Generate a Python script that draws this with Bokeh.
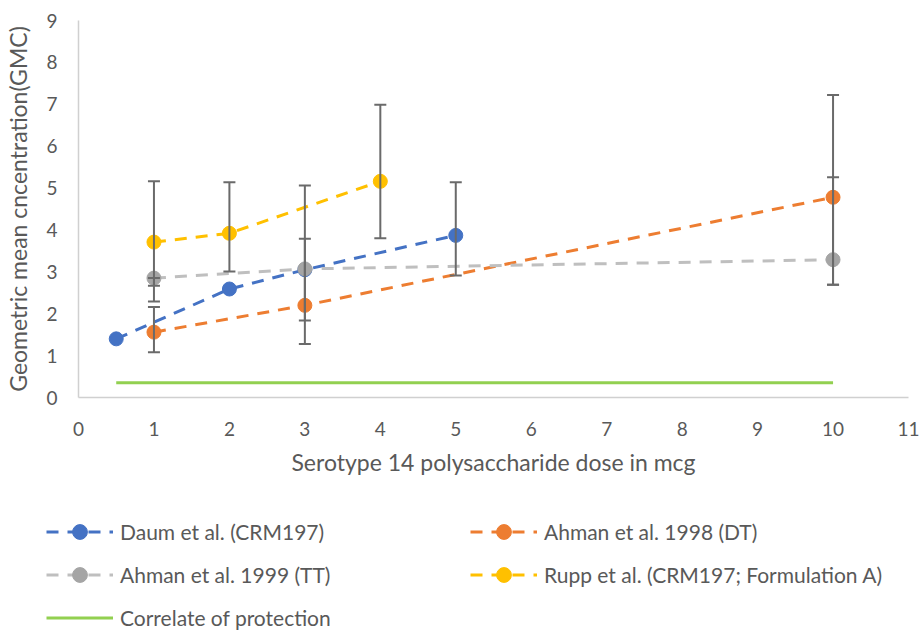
from bokeh.plotting import figure
from bokeh.layouts import column, row
from bokeh.models import (ColumnDataSource, Whisker, TeeHead, FixedTicker, Range1d,
                          Legend, LegendItem)
from bokeh.embed import file_html
from bokeh.resources import INLINE

# ---------------- data ----------------
dose_daum = [0.5, 2, 3, 5]
gmc_daum = [1.40, 2.59, 3.05, 3.87]
lo_daum = [None, None, None, 2.91]
hi_daum = [None, None, None, 5.14]

dose_ahman98 = [1, 3, 10]
gmc_ahman98 = [1.56, 2.20, 4.78]
lo_ahman98 = [1.08, 1.28, 2.69]
hi_ahman98 = [2.16, 3.79, 7.22]

dose_ahman99 = [1, 3, 10]
gmc_ahman99 = [2.85, 3.07, 3.29]
lo_ahman99 = [2.67, 1.84, 2.69]
hi_ahman99 = [2.85, 5.06, 5.26]

dose_rupp = [1, 2, 4]
gmc_rupp = [3.71, 3.92, 5.16]
lo_rupp = [2.29, 3.01, 3.80]
hi_rupp = [5.16, 5.14, 6.99]

cop_dose = [0.5, 10]
cop_gmc = [0.35, 0.35]

x_ticks = list(range(0, 12))
y_ticks = list(range(0, 10))

names = ["Daum et al. (CRM197)", "Ahman et al. 1998 (DT)",
         "Ahman et al. 1999 (TT)", "Rupp et al. (CRM197; Formulation A)",
         "Correlate of protection"]

FONT = "Lato"
TXT = "#595959"
ERR = "#6A6A6A"
GREEN = "#92D050"

styles = [("#4472C4", "#4472C4"), ("#ED7D31", "#ED7D31"),
          ("#BFBFBF", "#A5A5A5"), ("#FFC000", "#FFC000")]

p = figure(width=921, height=490, output_backend="svg", toolbar_location=None,
           x_range=Range1d(0, 11), y_range=Range1d(0, 9),
           min_border_left=78, min_border_right=13, min_border_top=20,
           min_border_bottom=93)
p.outline_line_color = None
p.xgrid.visible = False
p.ygrid.visible = False

p.xaxis.ticker = FixedTicker(ticks=x_ticks)
p.yaxis.ticker = FixedTicker(ticks=y_ticks)
for ax in (p.xaxis[0], p.yaxis[0]):
    ax.axis_line_color = "#D0D0D0"
    ax.axis_line_width = 1.5
    ax.major_tick_line_color = None
    ax.minor_tick_line_color = None
    ax.major_tick_out = 0
    ax.major_tick_in = 0
    ax.minor_tick_out = 0
    ax.minor_tick_in = 0
    ax.major_label_text_font = FONT
    ax.major_label_text_font_size = "19px"
    ax.major_label_text_color = TXT
    ax.axis_label_text_font = FONT
    ax.axis_label_text_font_size = "23px"
    ax.axis_label_text_font_style = "normal"
    ax.axis_label_text_color = TXT

p.xaxis.axis_label = "Serotype 14 polysaccharide dose in mcg"
p.yaxis.axis_label = "Geometric mean cncentration(GMC)"
p.xaxis.major_label_standoff = 24
p.xaxis.axis_label_standoff = 9
p.yaxis.major_label_standoff = 21
p.yaxis.axis_label_standoff = 11

series = [
    (dose_daum, gmc_daum, lo_daum, hi_daum),
    (dose_ahman98, gmc_ahman98, lo_ahman98, hi_ahman98),
    (dose_ahman99, gmc_ahman99, lo_ahman99, hi_ahman99),
    (dose_rupp, gmc_rupp, lo_rupp, hi_rupp),
]

# error bars
for d, g, lo, hi in series:
    xs = [x for x, a in zip(d, lo) if a is not None]
    los = [a for a in lo if a is not None]
    his = [b for b in hi if b is not None]
    if not xs:
        continue
    src = ColumnDataSource(dict(base=xs, lower=los, upper=his))
    w = Whisker(source=src, base="base", lower="lower", upper="upper",
                dimension="height", line_color=ERR, line_width=2,
                upper_head=TeeHead(size=12, line_color=ERR, line_width=2),
                lower_head=TeeHead(size=12, line_color=ERR, line_width=2),
                level="glyph")
    p.add_layout(w)

for (d, g, lo, hi), (lc, mc) in zip(series, styles):
    p.line(d, g, line_color=lc, line_width=3, line_dash="12 9")
    p.scatter(d, g, size=14, fill_color=mc, line_color=mc)

p.line(cop_dose, cop_gmc, line_color=GREEN, line_width=3)

# ---------------- legend panel ----------------
# Series are drawn again here (hidden) only to provide legend samples.
lp = figure(width=921, height=141, output_backend="svg", toolbar_location=None,
            x_range=Range1d(0, 11), y_range=Range1d(0, 9),
            x_axis_location=None, y_axis_location=None,
            min_border_left=0, min_border_right=0, min_border_top=0,
            min_border_bottom=0)
lp.grid.visible = False
lp.outline_line_color = None

leg_r = []
for (d, g, lo, hi), (lc, mc) in zip(series, styles):
    r1 = lp.line(d, g, line_color=lc, line_width=3, line_dash="12 9", visible=False)
    r2 = lp.scatter(d, g, size=14, fill_color=mc, line_color=mc, visible=False)
    leg_r.append([r1, r2])
leg_r.append([lp.line(cop_dose, cop_gmc, line_color=GREEN, line_width=3, visible=False)])

common = dict(orientation="vertical", glyph_width=67, glyph_height=37,
              label_height=37, label_standoff=7, spacing=6, padding=0, margin=0,
              border_line_alpha=0, background_fill_alpha=0,
              inactive_fill_alpha=0,
              label_text_font=FONT, label_text_font_size="21px",
              label_text_color=TXT)

leg1 = Legend(items=[LegendItem(label=names[0], renderers=leg_r[0]),
                     LegendItem(label=names[2], renderers=leg_r[2]),
                     LegendItem(label=names[4], renderers=leg_r[4])],
              location=(46, -5), **common)
leg2 = Legend(items=[LegendItem(label=names[1], renderers=leg_r[1]),
                     LegendItem(label=names[3], renderers=leg_r[3])],
              location=(470, 38), **common)
lp.add_layout(leg1)
lp.add_layout(leg2)

layout = column(p, row(lp, spacing=0), spacing=0)
open("out.html", "w").write(file_html(layout, INLINE))
